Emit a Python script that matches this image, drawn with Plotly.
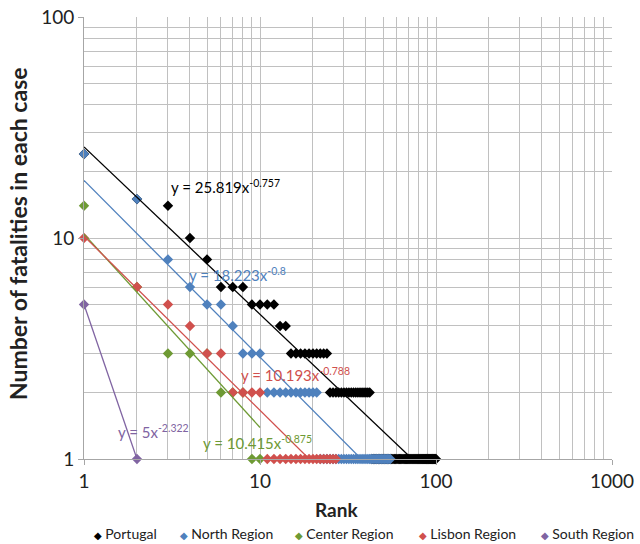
import plotly.graph_objects as go
import numpy as np

# ---- data ----
portugal_rank = list(range(1, 101))
portugal_val = ([24, 15, 14, 10, 8, 6, 6, 6, 5, 5, 5, 5, 4, 4]
                + [3] * 10 + [2] * 18 + [1] * 58)
north_rank = list(range(1, 56))
north_val = [24, 15, 8, 6, 5, 5, 4, 3, 3, 3] + [2] * 11 + [1] * 34
center_rank = list(range(1, 11))
center_val = [14, 6, 3, 3, 3, 2, 2, 2, 1, 1]
lisbon_rank = list(range(1, 28))
lisbon_val = [10, 6, 5, 4, 3, 3, 2, 2, 2, 2] + [1] * 17
south_rank = [1, 2]
south_val = [5, 1]

series_names = ["Portugal", "North Region", "Center Region", "Lisbon Region", "South Region"]
series_colors = ["#000000", "#4F81BD", "#6E9A34", "#D0504D", "#8064A2"]
fit_a = [25.819, 18.223, 10.415, 10.193, 5.0]
fit_b = [-0.757, -0.8, -0.875, -0.788, -2.322]
fit_text = ["y = 25.819x<sup>-0.757</sup>", "y = 18.223x<sup>-0.8</sup>",
            "y = 10.415x<sup>-0.875</sup>", "y = 10.193x<sup>-0.788</sup>",
            "y = 5x<sup>-2.322</sup>"]
# label anchor positions (rank, value) for the equations
fit_lab_x = [3.05, 3.84, 4.6, 7.6, 1.52]
fit_lab_y = [17.05, 6.83, 1.19, 2.42, 1.33]

xs = [portugal_rank, north_rank, center_rank, lisbon_rank, south_rank]
ys = [portugal_val, north_val, center_val, lisbon_val, south_val]

PL, PR, PT, PB = 84, 28, 17, 85
W, H = 640, 544
pw, ph = W - PL - PR, H - PT - PB


def px_x(p):
    return (p - PL) / pw


def px_y(p):
    return (H - PB - p) / ph


fig = go.Figure()
for name, col, x, y in zip(series_names, series_colors, xs, ys):
    fig.add_trace(go.Scatter(x=x, y=y, mode="markers", name=name, showlegend=False,
                             marker=dict(symbol="diamond", size=8, color=col,
                                         line=dict(width=0)),
                             cliponaxis=False))
for col, a, b, x in zip(series_colors, fit_a, fit_b, xs):
    xr = np.array([min(x), max(x)], dtype=float)
    fig.add_trace(go.Scatter(x=xr, y=a * xr ** b, mode="lines", showlegend=False,
                             line=dict(color=col, width=1.3), hoverinfo="skip"))

for txt, col, lx, ly in zip(fit_text, series_colors, fit_lab_x, fit_lab_y):
    fig.add_annotation(x=np.log10(lx), y=np.log10(ly), text=txt, showarrow=False,
                       xanchor="left", yanchor="middle",
                       font=dict(family="Lato", size=15, color=col))

grid = "#C0C0C0"
x_ticks = [1, 10, 100, 1000]
y_ticks = [1, 10, 100]
fig.update_xaxes(type="log", range=[0, 3], tickvals=x_ticks,
                 ticktext=[str(t) for t in x_ticks],
                 showgrid=True, gridcolor=grid, gridwidth=1,
                 minor=dict(dtick="D1", showgrid=True, gridcolor=grid, gridwidth=1),
                 showline=True, linecolor="#A6A6A6", linewidth=1,
                 ticks="outside", ticklen=5, tickcolor="#A6A6A6",
                 tickfont=dict(family="Lato", size=19, color="#222"),
                 zeroline=False)
fig.update_yaxes(type="log", range=[0, 2], tickvals=y_ticks,
                 ticktext=[str(t) for t in y_ticks],
                 showgrid=True, gridcolor=grid, gridwidth=1,
                 minor=dict(dtick="D1", showgrid=True, gridcolor=grid, gridwidth=1),
                 showline=True, linecolor="#A6A6A6", linewidth=1,
                 ticks="outside", ticklen=5, tickcolor="#A6A6A6",
                 tickfont=dict(family="Lato", size=19, color="#222"),
                 zeroline=False)

fig.add_annotation(xref="paper", yref="paper", x=px_x(336), y=px_y(509), text="<b>Rank</b>",
                   xanchor="center", yanchor="middle",
                   showarrow=False, font=dict(family="Lato", size=19, color="#222"))
fig.add_annotation(xref="paper", yref="paper", x=px_x(18), y=px_y(234),
                   xanchor="center", yanchor="middle",
                   text="<b>Number of fatalities in each case</b>", textangle=-90,
                   showarrow=False, font=dict(family="Lato", size=23, color="#222"))

# legend entries (one per series)
legend_px = [92, 178, 293, 417, 539]
for name, col, lp in zip(series_names, series_colors, legend_px):
    fig.add_annotation(xref="paper", yref="paper", x=px_x(lp), y=px_y(533),
                       xanchor="left", yanchor="middle", showarrow=False,
                       text=f"<span style='color:{col};font-family:DejaVu Sans;font-size:10px'>◆</span> {name}",
                       font=dict(family="Lato", size=14, color="#222"))

fig.update_layout(width=W, height=H,
                  margin=dict(l=PL, r=PR, t=PT, b=PB, autoexpand=False),
                  paper_bgcolor="white", plot_bgcolor="white",
                  showlegend=False)
fig.write_html("out.html", config={"displayModeBar": False},
               post_script="document.body.style.margin='0';document.body.style.overflow='hidden';")
